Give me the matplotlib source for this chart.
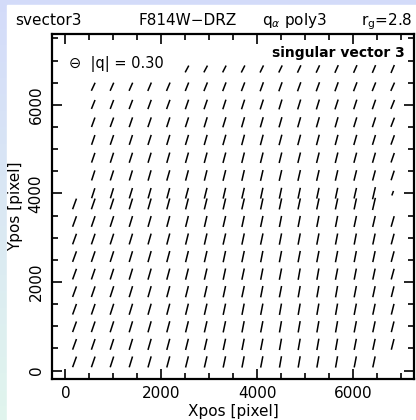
import numpy as np
import matplotlib
matplotlib.use("Agg")
import matplotlib.pyplot as plt
from matplotlib.patches import Rectangle
from matplotlib.ticker import MultipleLocator
from matplotlib.collections import LineCollection
from matplotlib.transforms import IdentityTransform

plt.rcParams['font.family'] = ['DejaVu Sans']

# ---- data -------------------------------------------------------------
# grid column centres (Xpos, pixel)
x_cols = [190, 580, 970, 1365, 1755, 2145, 2535, 2925, 3315,
          3705, 4095, 4485, 4875, 5265, 5655, 6045, 6435, 6825]
# grid row centres (Ypos, pixel), from top row to bottom row
y_rows = [6810, 6409, 6009, 5607, 5208, 4806, 4406, 4005,
          3763, 3367, 2970, 2574, 2178, 1782, 1385, 989, 592, 196]

N = None
# stick position angle on screen (deg from +x), rows top->bottom
angle = [
    [N, N, N, N, N, N, 62, 62, 63, 63, 64, 64, 65, 65, 66, 66, 67, 67],
    [N, 65, 66, 66, 67, 67, 68, 68, 69, 69, 70, 70, 70, 70, 70, 69, 68, 66],
    [N, 68, 69, 69, 70, 70, 71, 71, 72, 72, 72, 73, 73, 73, 72, 72, 71, 68],
    [N, 70, 70, 71, 71, 72, 72, 73, 73, 74, 74, 74, 74, 74, 74, 73, 72, 69],
    [N, 71, 71, 72, 72, 73, 73, 74, 74, 75, 75, 75, 75, 75, 75, 74, 73, 70],
    [N, 71, 72, 72, 73, 74, 74, 75, 75, 76, 76, 76, 76, 76, 76, 75, 74, 71],
    [N, 72, 72, 73, 74, 74, 75, 76, 76, 77, 77, 77, 77, 77, 77, 76, 75, 72],
    [N, 72, 73, 73, 74, 75, 75, 76, 77, 77, 78, 78, 78, 78, 78, 77, 77, 70],
    [70, 71, 72, 73, 74, 75, 76, 76, 77, 77, 78, 78, 78, 78, 78, 78, 77, N],
    [70, 71, 72, 73, 74, 75, 76, 77, 77, 78, 78, 79, 79, 79, 79, 78, 77, 74],
    [70, 71, 72, 73, 74, 75, 76, 77, 77, 78, 78, 79, 79, 79, 79, 79, 78, 75],
    [70, 71, 72, 73, 74, 75, 76, 77, 78, 78, 79, 79, 79, 79, 79, 79, 78, 75],
    [70, 71, 72, 73, 74, 75, 76, 77, 78, 78, 79, 79, 80, 80, 79, 79, 78, 75],
    [70, 71, 72, 73, 74, 75, 76, 77, 78, 78, 79, 79, 80, 80, 80, 79, 78, 76],
    [70, 71, 72, 73, 74, 75, 76, 77, 78, 79, 79, 80, 80, 80, 80, 79, 78, 76],
    [70, 71, 72, 73, 74, 75, 76, 77, 78, 79, 79, 80, 80, 80, 80, 79, 78, 76],
    [70, 71, 72, 73, 74, 75, 76, 77, 78, 79, 79, 80, 80, 80, 80, 79, 78, 76],
    [70, 71, 72, 73, 74, 75, 76, 77, 78, 79, 79, 80, 80, 80, 80, 79, 78, N],
]
# |q| of each stick (x100), rows top->bottom
q100 = [
    [N, N, N, N, N, N, 32, 32, 32, 33, 33, 33, 34, 34, 35, 35, 35, 36],
    [N, 37, 37, 37, 38, 38, 38, 39, 39, 39, 40, 40, 40, 40, 40, 40, 39, 38],
    [N, 40, 40, 41, 41, 41, 42, 42, 42, 42, 43, 43, 43, 43, 43, 42, 42, 40],
    [N, 42, 42, 43, 43, 43, 43, 44, 44, 44, 44, 44, 44, 44, 44, 43, 43, 41],
    [N, 43, 43, 43, 44, 44, 44, 44, 45, 45, 45, 45, 45, 45, 44, 44, 43, 42],
    [N, 43, 44, 44, 44, 45, 45, 45, 45, 45, 45, 45, 45, 45, 45, 44, 44, 42],
    [N, 44, 44, 44, 45, 45, 45, 45, 46, 46, 46, 46, 46, 46, 45, 45, 44, 42],
    [N, 44, 44, 45, 45, 45, 46, 46, 46, 46, 46, 46, 46, 46, 46, 45, 52, 20],
    [47, 47, 47, 47, 47, 47, 47, 47, 47, 47, 47, 47, 47, 47, 47, 47, 52, N],
    [47, 47, 47, 47, 47, 47, 47, 47, 47, 47, 47, 47, 47, 47, 47, 47, 47, 46],
    [47, 47, 47, 47, 47, 48, 48, 48, 48, 48, 48, 48, 48, 48, 47, 47, 47, 46],
    [47, 47, 47, 47, 48, 48, 48, 48, 48, 48, 48, 48, 48, 48, 48, 47, 47, 46],
    [47, 47, 47, 48, 48, 48, 48, 48, 48, 48, 48, 48, 48, 48, 48, 47, 47, 46],
    [47, 47, 48, 48, 48, 48, 48, 48, 48, 48, 48, 48, 48, 48, 48, 48, 47, 46],
    [47, 47, 48, 48, 48, 48, 48, 48, 48, 48, 48, 48, 48, 48, 48, 48, 47, 46],
    [47, 47, 48, 48, 48, 48, 48, 48, 48, 48, 48, 48, 48, 48, 48, 48, 47, 46],
    [47, 47, 47, 48, 48, 48, 48, 48, 48, 48, 48, 48, 48, 48, 48, 47, 47, 46],
    [47, 47, 47, 47, 48, 48, 48, 48, 48, 48, 48, 48, 48, 48, 48, 47, 47, N],
]
q_ref = 0.30
x_ticks = [0, 2000, 4000, 6000]
y_ticks = [0, 2000, 4000, 6000]

# ---- figure -----------------------------------------------------------
W, H = 416, 420
DPI = 100
fig = plt.figure(figsize=(W / DPI, H / DPI), dpi=DPI)

bg = fig.add_axes([0, 0, 1, 1], zorder=-10)
bg.axis('off')
g = np.linspace(0, 1, 256)[:, None, None]
top_c = np.array([0.83, 0.86, 0.98])
bot_c = np.array([0.88, 0.96, 0.93])
img = top_c * (1 - g) + bot_c * g
bg.imshow(np.repeat(img, 2, axis=1), aspect='auto', extent=[0, 1, 0, 1])
bg.add_patch(Rectangle((7 / W, 0), 1, (H - 5) / H, color='white'))
bg.set_xlim(0, 1)
bg.set_ylim(0, 1)

ax = fig.add_axes([52 / W, 41 / H, 362 / W, 345 / H])
ax.set_xlim(-280, 7270)
ax.set_ylim(-190, 7600)

# sticks: length in screen pixels proportional to |q|
PX_PER_Q = 24.0
offsets, segs = [], []
for r, yv in enumerate(y_rows):
    for c, xv in enumerate(x_cols):
        a = angle[r][c]
        q = q100[r][c]
        if a is None or q is None:
            continue
        half = 0.5 * PX_PER_Q * q / 100
        dx = half * np.cos(np.radians(a))
        dy = half * np.sin(np.radians(a))
        offsets.append((xv, yv))
        segs.append([(-dx, -dy), (dx, dy)])

lc = LineCollection(segs, offsets=offsets, offset_transform=ax.transData,
                    transform=IdentityTransform(), colors='black',
                    linewidths=1.1, capstyle='butt')
ax.add_collection(lc)

for s in ax.spines.values():
    s.set_linewidth(1.6)
ax.set_xticks(x_ticks)
ax.set_yticks(y_ticks)
ax.xaxis.set_minor_locator(MultipleLocator(500))
ax.yaxis.set_minor_locator(MultipleLocator(500))
ax.tick_params(which='both', direction='in', top=True, right=True,
               width=1.2, labelsize=11)
ax.tick_params(which='major', length=7.5)
ax.tick_params(which='minor', length=4)
ax.tick_params(axis='x', pad=5)
ax.tick_params(axis='y', pad=6)
for lbl in ax.get_yticklabels():
    lbl.set_rotation(90)
    lbl.set_va('center')
    lbl.set_ha('right')

ax.set_xlabel('Xpos [pixel]', fontsize=11, labelpad=2)
ax.set_ylabel('Ypos [pixel]', fontsize=11, labelpad=4)

ax.text(0.975, 0.933, 'singular vector 3', transform=ax.transAxes,
        ha='right', va='baseline', fontsize=10, fontweight='bold')
ax.text(0.047, 0.913, '\u2296  |q| = %.2f' % q_ref, transform=ax.transAxes,
        ha='left', va='center', fontsize=10.5)

yb = 1 - 25 / H
fig.text(15 / W, yb, 'svector3', ha='left', va='baseline', fontsize=11)
fig.text(188 / W, yb, 'F814W\u2212DRZ', ha='center', va='baseline', fontsize=11)
fig.text(262 / W, yb, r'q$_\alpha$ poly3', ha='left', va='baseline', fontsize=11)
fig.text(412 / W, yb, r'r$_\mathrm{g}$=2.8', ha='right', va='baseline', fontsize=11)

fig.savefig('out.png', dpi=DPI)
